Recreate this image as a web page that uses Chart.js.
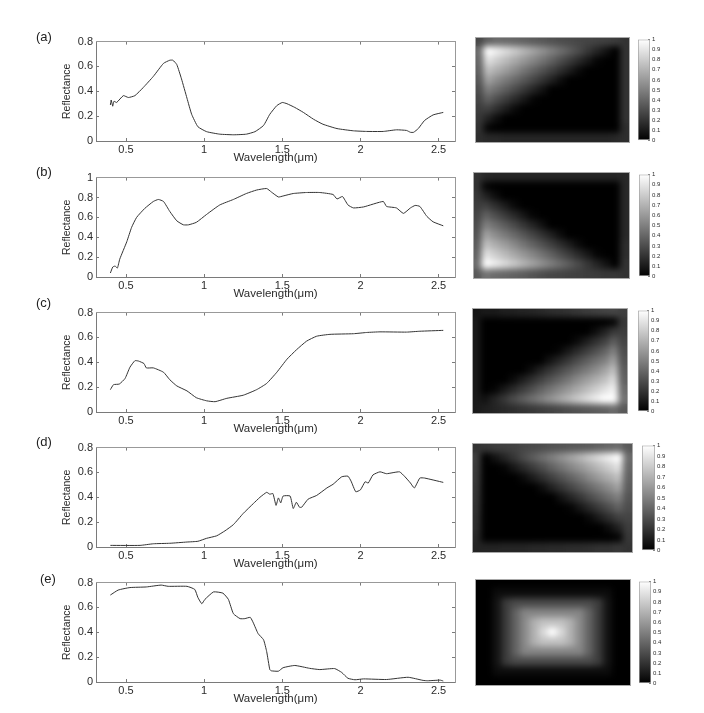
<!DOCTYPE html>
<html>
<head>
<meta charset="utf-8">
<title>Spectra and abundance maps</title>
<script src="https://cdn.jsdelivr.net/npm/chart.js@4"></script>
<style>
  html, body { margin: 0; padding: 0; background: #fff; }
  #page { position: relative; width: 704px; height: 713px; overflow: hidden; }
  #page canvas { position: absolute; }
  .tag { position: absolute; font: 13px "Liberation Sans", Arial, sans-serif; color: #222; line-height: 14px; }
  .heat { box-sizing: content-box; outline: 1px solid #a8a8a8; outline-offset: -1px; }
</style>
</head>
<body>
<div id="page"></div>
<script>
// ===== DATA =====
const xTicks = [0.5, 1, 1.5, 2, 2.5];
const xLimits = [0.308, 2.605];
const yTicksShort = [0, 0.2, 0.4, 0.6, 0.8];
const yTicksTall = [0, 0.2, 0.4, 0.6, 0.8, 1];
const colorbarTicks = [0, 0.1, 0.2, 0.3, 0.4, 0.5, 0.6, 0.7, 0.8, 0.9, 1];

const wavelengthA = [0.4,0.405,0.415,0.423,0.44,0.483,0.515,0.557,0.61,0.675,0.74,0.78,0.8,0.825,0.855,0.89,0.92,0.96,1.016,1.1,1.19,1.27,1.325,1.38,1.42,1.465,1.5,1.53,1.58,1.635,1.7,1.76,1.85,1.955,2.04,2.146,2.23,2.295,2.32,2.34,2.37,2.41,2.465,2.53];
const reflectanceA = [0.29,0.33,0.28,0.32,0.31,0.365,0.35,0.365,0.43,0.52,0.625,0.65,0.65,0.615,0.5,0.345,0.215,0.115,0.075,0.055,0.05,0.055,0.075,0.125,0.215,0.285,0.31,0.3,0.27,0.23,0.175,0.135,0.1,0.082,0.077,0.077,0.09,0.085,0.07,0.07,0.1,0.165,0.21,0.23];

const wavelengthB = [0.4,0.415,0.43,0.445,0.46,0.505,0.536,0.568,0.62,0.675,0.707,0.74,0.78,0.825,0.867,0.9,0.95,1.016,1.1,1.187,1.27,1.336,1.4,1.43,1.475,1.505,1.57,1.655,1.74,1.825,1.85,1.885,1.92,1.955,2.02,2.146,2.167,2.23,2.275,2.32,2.35,2.38,2.425,2.465,2.53];
const reflectanceB = [0.04,0.1,0.11,0.09,0.18,0.355,0.5,0.6,0.69,0.76,0.78,0.76,0.66,0.565,0.525,0.525,0.55,0.63,0.725,0.78,0.84,0.875,0.89,0.855,0.805,0.815,0.84,0.85,0.85,0.83,0.785,0.81,0.725,0.695,0.705,0.76,0.71,0.695,0.64,0.695,0.72,0.71,0.61,0.555,0.515];

const wavelengthC = [0.4,0.42,0.457,0.494,0.525,0.557,0.58,0.615,0.63,0.675,0.74,0.78,0.825,0.89,0.95,1.016,1.07,1.145,1.25,1.336,1.4,1.465,1.53,1.59,1.655,1.72,1.805,1.955,2.04,2.125,2.295,2.38,2.53];
const reflectanceC = [0.18,0.22,0.225,0.27,0.36,0.413,0.41,0.39,0.355,0.355,0.32,0.26,0.21,0.17,0.115,0.09,0.083,0.11,0.135,0.18,0.23,0.32,0.425,0.5,0.57,0.61,0.625,0.63,0.64,0.645,0.643,0.65,0.657];

const wavelengthD = [0.4,0.59,0.675,0.78,0.89,0.96,1.016,1.08,1.133,1.187,1.25,1.315,1.357,1.4,1.42,1.44,1.46,1.475,1.49,1.505,1.55,1.57,1.59,1.61,1.624,1.665,1.72,1.785,1.825,1.88,1.92,1.94,1.97,2,2.03,2.05,2.08,2.125,2.167,2.25,2.285,2.32,2.345,2.38,2.41,2.53];
const reflectanceD = [0.013,0.013,0.026,0.03,0.04,0.046,0.07,0.09,0.13,0.18,0.27,0.35,0.4,0.44,0.425,0.43,0.335,0.395,0.355,0.41,0.41,0.31,0.36,0.32,0.32,0.385,0.415,0.475,0.505,0.565,0.57,0.53,0.445,0.46,0.525,0.515,0.58,0.605,0.59,0.605,0.565,0.515,0.475,0.555,0.555,0.52];

const wavelengthE = [0.4,0.45,0.525,0.63,0.725,0.77,0.89,0.94,0.96,0.985,1.005,1.06,1.12,1.155,1.187,1.23,1.26,1.295,1.315,1.345,1.38,1.4,1.42,1.43,1.475,1.505,1.58,1.675,1.74,1.835,1.88,1.92,1.965,2.02,2.167,2.305,2.4,2.43,2.51,2.53];
const reflectanceE = [0.7,0.74,0.76,0.765,0.78,0.77,0.77,0.745,0.68,0.63,0.665,0.725,0.715,0.665,0.55,0.51,0.51,0.52,0.475,0.39,0.34,0.245,0.1,0.09,0.087,0.115,0.133,0.11,0.1,0.108,0.077,0.03,0.018,0.025,0.02,0.038,0.013,0.01,0.015,0.008];

// abundance maps, percent per cell, read row by row from the top
const heatA = [
  [28,38,42,41,40,38,36,34,32,30,29,28,27,26,25,24,20],
  [42,100,93,86,79,71,64,57,50,43,36,29,21,14,7,0,20],
  [40,88,80,73,66,59,52,45,38,30,23,16,9,2,0,0,20],
  [38,75,68,61,54,46,39,32,25,18,11,4,0,0,0,0,20],
  [34,63,55,48,41,34,27,20,13,5,0,0,0,0,0,0,20],
  [30,50,43,36,29,21,14,7,0,0,0,0,0,0,0,0,20],
  [27,38,30,23,16,9,2,0,0,0,0,0,0,0,0,0,20],
  [24,25,18,11,4,0,0,0,0,0,0,0,0,0,0,0,20],
  [22,13,5,0,0,0,0,0,0,0,0,0,0,0,0,0,20],
  [20,2,0,0,0,0,0,0,0,0,0,0,0,0,0,0,18],
  [18,16,16,15,15,15,15,15,15,15,15,15,15,15,15,16,18]
];
const heatB = [
  [20,16,15,15,15,15,15,15,15,15,15,15,15,15,15,15,16],
  [20,2,0,0,0,0,0,0,0,0,0,0,0,0,0,0,16],
  [22,13,5,0,0,0,0,0,0,0,0,0,0,0,0,0,16],
  [24,25,18,11,4,0,0,0,0,0,0,0,0,0,0,0,16],
  [27,38,30,23,16,9,2,0,0,0,0,0,0,0,0,0,16],
  [30,50,43,36,29,21,14,7,0,0,0,0,0,0,0,0,16],
  [33,63,55,48,41,34,27,20,13,5,0,0,0,0,0,0,16],
  [36,75,68,61,54,46,39,32,25,18,11,4,0,0,0,0,18],
  [39,88,80,73,66,59,52,45,38,30,23,16,9,2,0,0,18],
  [42,100,93,86,79,71,64,57,50,43,36,29,21,14,7,0,20],
  [35,45,42,40,38,36,33,30,28,27,26,25,24,23,22,22,20]
];
const heatC = [
  [8,10,10,12,13,14,15,16,18,19,20,22,24,25,27,28,25],
  [10,0,0,0,0,0,0,0,0,0,0,0,0,0,0,2,22],
  [10,0,0,0,0,0,0,0,0,0,0,0,0,5,13,22,24],
  [10,0,0,0,0,0,0,0,0,0,0,4,11,18,25,36,27],
  [10,0,0,0,0,0,0,0,0,2,9,16,23,30,38,50,30],
  [10,0,0,0,0,0,0,0,7,14,21,29,36,43,50,62,33],
  [10,0,0,0,0,0,5,13,20,27,34,41,48,55,63,75,36],
  [10,0,0,0,4,11,18,25,32,39,46,54,61,68,75,86,38],
  [10,0,2,9,16,23,30,38,45,52,59,66,73,80,88,95,42],
  [10,7,14,21,29,36,43,50,57,64,71,79,86,93,100,100,45],
  [10,12,14,16,18,20,22,24,26,28,30,32,34,36,38,42,35]
];
const heatD = [
  [20,22,24,25,26,28,29,30,32,33,34,35,36,38,40,42,35],
  [25,0,7,14,21,29,36,43,50,57,64,71,79,86,93,100,42],
  [24,0,0,2,9,16,23,30,38,45,52,59,66,73,80,88,40],
  [23,0,0,0,0,4,11,18,25,32,39,46,54,61,68,75,38],
  [22,0,0,0,0,0,0,5,13,20,27,34,41,48,55,63,36],
  [21,0,0,0,0,0,0,0,0,7,14,21,29,36,43,50,33],
  [20,0,0,0,0,0,0,0,0,0,2,9,16,23,30,38,30],
  [19,0,0,0,0,0,0,0,0,0,0,0,4,11,18,25,27],
  [18,0,0,0,0,0,0,0,0,0,0,0,0,0,5,13,24],
  [16,0,0,0,0,0,0,0,0,0,0,0,0,0,0,2,22],
  [14,14,14,15,15,15,16,16,17,17,18,18,19,20,20,22,20]
];
const heatE = [
  [0,0,0,0,0,0,0,0,0,0,0,0,0,0,0,0,0],
  [0,0,5,5,5,5,5,5,5,5,5,5,5,5,5,0,0],
  [0,0,8,24,29,29,29,29,29,29,29,29,29,24,8,0,0],
  [0,0,8,24,39,52,52,52,52,52,52,52,39,24,8,0,0],
  [0,0,8,24,39,54,69,76,76,76,69,54,39,24,8,0,0],
  [0,0,8,24,39,54,69,85,100,85,69,54,39,24,8,0,0],
  [0,0,8,24,39,54,69,76,76,76,69,54,39,24,8,0,0],
  [0,0,8,24,39,52,52,52,52,52,52,52,39,24,8,0,0],
  [0,0,8,24,29,29,29,29,29,29,29,29,29,24,8,0,0],
  [0,0,5,5,5,5,5,5,5,5,5,5,5,5,5,0,0],
  [0,0,0,0,0,0,0,0,0,0,0,0,0,0,0,0,0]
];

// ===== HELPERS =====
const page = document.getElementById("page");
const sans = '"Liberation Sans", Arial, sans-serif';
const axisGray = "#7a7a7a";
const textGray = "#2b2b2b";

function addCanvas(left, top, width, height, cls) {
  const c = document.createElement("canvas");
  c.width = width;
  c.height = height;
  c.style.left = left + "px";
  c.style.top = top + "px";
  c.style.width = width + "px";
  c.style.height = height + "px";
  if (cls) c.className = cls;
  page.appendChild(c);
  return c;
}

function addTag(text, left, top) {
  const d = document.createElement("div");
  d.className = "tag";
  d.textContent = text;
  d.style.left = left + "px";
  d.style.top = top + "px";
  page.appendChild(d);
}

function setTicks(list) {
  return scale => { scale.ticks = list.map(v => ({ value: v })); };
}

// ===== SPECTRA =====
function spectrum(wavelength, reflectance, yTicks, left, right, top, bottom) {
  const padTop = 8, yBox = 56, xBox = 24;
  const canvas = addCanvas(left - yBox, top - padTop, right - left + yBox + 10, bottom - top + padTop + xBox);
  const ymax = yTicks[yTicks.length - 1];
  const edgeGrid = { drawOnChartArea: false, tickLength: -3, tickColor: axisGray };
  new Chart(canvas, {
    type: "line",
    data: {
      datasets: [{
        data: wavelength.map((w, i) => ({ x: w, y: reflectance[i] })),
        borderColor: "#333",
        borderWidth: 1,
        pointRadius: 0,
        tension: 0.15
      }]
    },
    options: {
      responsive: false,
      animation: false,
      layout: { padding: { top: padTop, right: 10, left: 0, bottom: 0 } },
      plugins: { legend: { display: false }, tooltip: { enabled: false } },
      scales: {
        x: {
          type: "linear",
          min: xLimits[0],
          max: xLimits[1],
          afterBuildTicks: setTicks(xTicks),
          afterFit: s => { s.height = xBox; },
          grid: edgeGrid,
          border: { color: axisGray },
          ticks: {
            padding: 5,
            maxRotation: 0,
            autoSkip: false,
            color: textGray,
            font: { family: sans, size: 11 },
            callback: v => String(v)
          },
          title: {
            display: true,
            text: "Wavelength(μm)",
            color: textGray,
            padding: 0,
            font: { family: sans, size: 11.5 }
          }
        },
        y: {
          min: 0,
          max: ymax,
          afterBuildTicks: setTicks(yTicks),
          afterFit: s => { s.width = yBox; },
          grid: edgeGrid,
          border: { color: axisGray },
          ticks: {
            padding: 6,
            autoSkip: false,
            color: textGray,
            font: { family: sans, size: 11 },
            callback: v => String(v)
          },
          title: {
            display: true,
            text: "Reflectance",
            color: textGray,
            padding: { top: 21, bottom: 0 },
            font: { family: sans, size: 10.5 }
          }
        },
        xTop: {
          type: "linear",
          position: "top",
          axis: "x",
          min: xLimits[0],
          max: xLimits[1],
          afterBuildTicks: setTicks(xTicks),
          afterFit: s => { s.height = 0; },
          grid: edgeGrid,
          border: { color: "#999" },
          ticks: { display: false }
        },
        yRight: {
          type: "linear",
          position: "right",
          axis: "y",
          min: 0,
          max: ymax,
          afterBuildTicks: setTicks(yTicks),
          afterFit: s => { s.width = 0; },
          grid: edgeGrid,
          border: { color: "#999" },
          ticks: { display: false }
        }
      }
    }
  });
}

// ===== ABUNDANCE MAPS =====
// soften the square cells once the library has drawn them
const softenCells = {
  id: "softenCells",
  afterDatasetsDraw(chart) {
    const { ctx, canvas, chartArea: a } = chart;
    ctx.save();
    ctx.beginPath();
    ctx.rect(a.left, a.top, a.right - a.left, a.bottom - a.top);
    ctx.clip();
    ctx.filter = "blur(3px)";
    ctx.drawImage(canvas, 0, 0);
    ctx.restore();
  }
};

function heatmap(matrix, left, right, top, bottom) {
  const width = right - left, height = bottom - top;
  const rows = matrix.length, cols = matrix[0].length;
  const canvas = addCanvas(left, top, width, height, "heat");
  const points = [], colors = [];
  matrix.forEach((row, r) => row.forEach((v, c) => {
    const g = Math.round(v * 2.55);
    points.push({ x: c, y: r });
    colors.push(`rgb(${g},${g},${g})`);
  }));
  const side = Math.max(width / cols, height / rows) + 1;
  new Chart(canvas, {
    type: "scatter",
    data: {
      datasets: [{
        data: points,
        pointStyle: "rect",
        pointRadius: side / Math.SQRT2,
        pointBorderWidth: 0,
        pointBackgroundColor: colors
      }]
    },
    options: {
      responsive: false,
      animation: false,
      layout: { autoPadding: false, padding: 0 },
      plugins: { legend: { display: false }, tooltip: { enabled: false } },
      scales: {
        x: { display: false, min: -0.5, max: cols - 0.5 },
        y: { display: false, reverse: true, min: -0.5, max: rows - 0.5 }
      }
    },
    plugins: [softenCells]
  });
}

function colorbar(left, right, top, bottom) {
  const labelBox = 14;
  const canvas = addCanvas(left - 1, top - 5, right - left + labelBox + 1, bottom - top + 10);
  new Chart(canvas, {
    type: "bar",
    data: {
      labels: [""],
      datasets: [{
        data: [[colorbarTicks[0], colorbarTicks[colorbarTicks.length - 1]]],
        barPercentage: 1,
        categoryPercentage: 1,
        borderWidth: 1,
        borderSkipped: false,
        borderColor: "#a0a0a0",
        backgroundColor: ctx => {
          const area = ctx.chart.chartArea;
          if (!area) return "#000";
          const g = ctx.chart.ctx.createLinearGradient(0, area.bottom, 0, area.top);
          g.addColorStop(0, "#000");
          g.addColorStop(1, "#fff");
          return g;
        }
      }]
    },
    options: {
      responsive: false,
      animation: false,
      layout: { padding: { top: 5, bottom: 5, left: 1, right: 0 } },
      plugins: { legend: { display: false }, tooltip: { enabled: false } },
      scales: {
        x: { display: false },
        y: {
          position: "right",
          min: 0,
          max: 1,
          afterBuildTicks: setTicks(colorbarTicks),
          afterFit: s => { s.width = labelBox; },
          grid: { drawOnChartArea: false, tickLength: -2, tickColor: "#888" },
          border: { display: false },
          ticks: {
            padding: 4,
            autoSkip: false,
            color: textGray,
            font: { family: sans, size: 6 },
            callback: v => String(v)
          }
        }
      }
    }
  });
}

// ===== PANELS =====
spectrum(wavelengthA, reflectanceA, yTicksShort, 96, 455, 37, 141);
spectrum(wavelengthB, reflectanceB, yTicksTall, 96, 455, 173, 277);
spectrum(wavelengthC, reflectanceC, yTicksShort, 96, 455, 308, 412);
spectrum(wavelengthD, reflectanceD, yTicksShort, 96, 455, 443, 547);
spectrum(wavelengthE, reflectanceE, yTicksShort, 96, 455, 578, 682);

heatmap(heatA, 475, 630, 37, 143);
heatmap(heatB, 473, 630, 172, 279);
heatmap(heatC, 472, 628, 308, 414);
heatmap(heatD, 472, 633, 443, 553);
heatmap(heatE, 475, 631, 579, 686);

colorbar(638, 650, 37, 143);
colorbar(639, 650, 172, 279);
colorbar(638, 649, 308, 414);
colorbar(642, 655, 443, 553);
colorbar(639, 651, 579, 686);

addTag("(a)", 36, 30);
addTag("(b)", 36, 165);
addTag("(c)", 36, 296);
addTag("(d)", 36, 435);
addTag("(e)", 40, 572);
</script>
</body>
</html>
